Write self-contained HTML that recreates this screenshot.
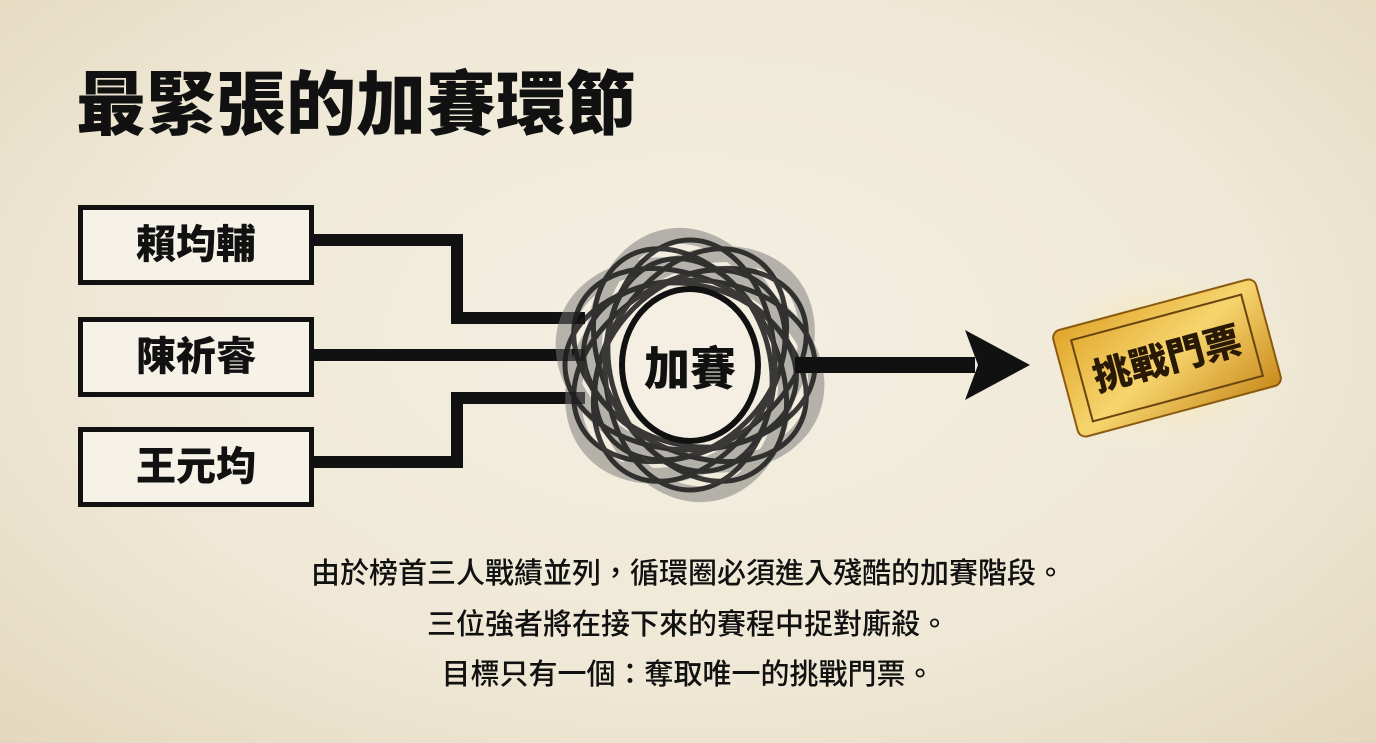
<!DOCTYPE html>
<html><head><meta charset="utf-8"><style>
html,body{margin:0;padding:0}
body{width:1376px;height:743px;overflow:hidden;background:radial-gradient(ellipse at 50% 45%,#f4efe2 0%,#efe8d6 60%,#e3d8bd 100%);font-family:"Liberation Sans","Noto Sans CJK TC",sans-serif;position:relative}
.t{position:absolute;left:76px;top:70px;font-size:70px;font-weight:900;color:#111;line-height:1}
.box{position:absolute;left:78px;width:226px;height:70px;border:5px solid #111;background:#f6f2e8;font-size:40px;font-weight:900;text-align:center;line-height:70px;color:#111}
.p{position:absolute;left:0;width:1376px;text-align:center;font-size:29px;color:#111;font-weight:500}
</style></head><body>
<div class="t">最緊張的加賽環節</div>
<svg width="1376" height="743" style="position:absolute;left:0;top:0">
<defs>
<radialGradient id="glow"><stop offset="0" stop-color="#ffe27a" stop-opacity="0.9"/><stop offset="1" stop-color="#f4efe2" stop-opacity="0"/></radialGradient>
<linearGradient id="gold" x1="0" y1="0" x2="1" y2="1"><stop offset="0" stop-color="#e0a52a"/><stop offset="0.5" stop-color="#f7d56e"/><stop offset="1" stop-color="#c98a1c"/></linearGradient>
</defs>
<g fill="none" stroke="#111" stroke-width="12">
<polyline points="313,240 457,240 457,318 585,318"/>
<line x1="313" y1="355" x2="585" y2="355"/>
<polyline points="313,462 457,462 457,398 585,398"/>
</g>
<g transform="translate(690,365)" fill="none">
<g stroke="#777" stroke-width="16" opacity="0.5">
<ellipse rx="130" ry="95" transform="rotate(20)"/>
<ellipse rx="130" ry="95" transform="rotate(80)"/>
<ellipse rx="130" ry="95" transform="rotate(140)"/>
</g>
<g stroke="#1a1a1a" stroke-width="5" opacity="0.85">
<ellipse rx="125" ry="85" transform="rotate(0)"/>
<ellipse rx="125" ry="85" transform="rotate(30)"/>
<ellipse rx="125" ry="85" transform="rotate(60)"/>
<ellipse rx="125" ry="85" transform="rotate(90)"/>
<ellipse rx="125" ry="85" transform="rotate(120)"/>
<ellipse rx="125" ry="85" transform="rotate(150)"/>
<ellipse rx="108" ry="80" transform="rotate(15)"/>
<ellipse rx="108" ry="80" transform="rotate(75)"/>
<ellipse rx="108" ry="80" transform="rotate(135)"/>
</g>
<ellipse rx="68" ry="76" fill="#f4efe2" stroke="#111" stroke-width="6"/>
</g>
<text x="690" y="385" text-anchor="middle" font-size="46" font-weight="900" fill="#111" font-family="Liberation Sans,Noto Sans CJK TC,sans-serif">加賽</text>
<line x1="795" y1="365" x2="975" y2="365" stroke="#111" stroke-width="16"/>
<polygon points="965,330 1030,365 965,400 978,365" fill="#111"/>
<ellipse cx="1167" cy="358" rx="140" ry="100" fill="url(#glow)"/>
<g transform="translate(1167,358) rotate(-15)">
<rect x="-105" y="-55" width="210" height="110" rx="8" fill="url(#gold)" stroke="#8a5a10" stroke-width="2"/>
<rect x="-88" y="-42" width="176" height="84" fill="none" stroke="#6b4510" stroke-width="2"/>
<text x="0" y="14" text-anchor="middle" font-size="38" font-weight="900" fill="#2a1a05" font-family="Liberation Sans,Noto Sans CJK TC,sans-serif">挑戰門票</text>
</g>
</svg>
<div class="box" style="top:205px">賴均輔</div>
<div class="box" style="top:317px">陳祈睿</div>
<div class="box" style="top:427px">王元均</div>
<div class="p" style="top:550px">由於榜首三人戰績並列，循環圈必須進入殘酷的加賽階段。</div>
<div class="p" style="top:601px">三位強者將在接下來的賽程中捉對廝殺。</div>
<div class="p" style="top:651px">目標只有一個：奪取唯一的挑戰門票。</div>
</body></html>
